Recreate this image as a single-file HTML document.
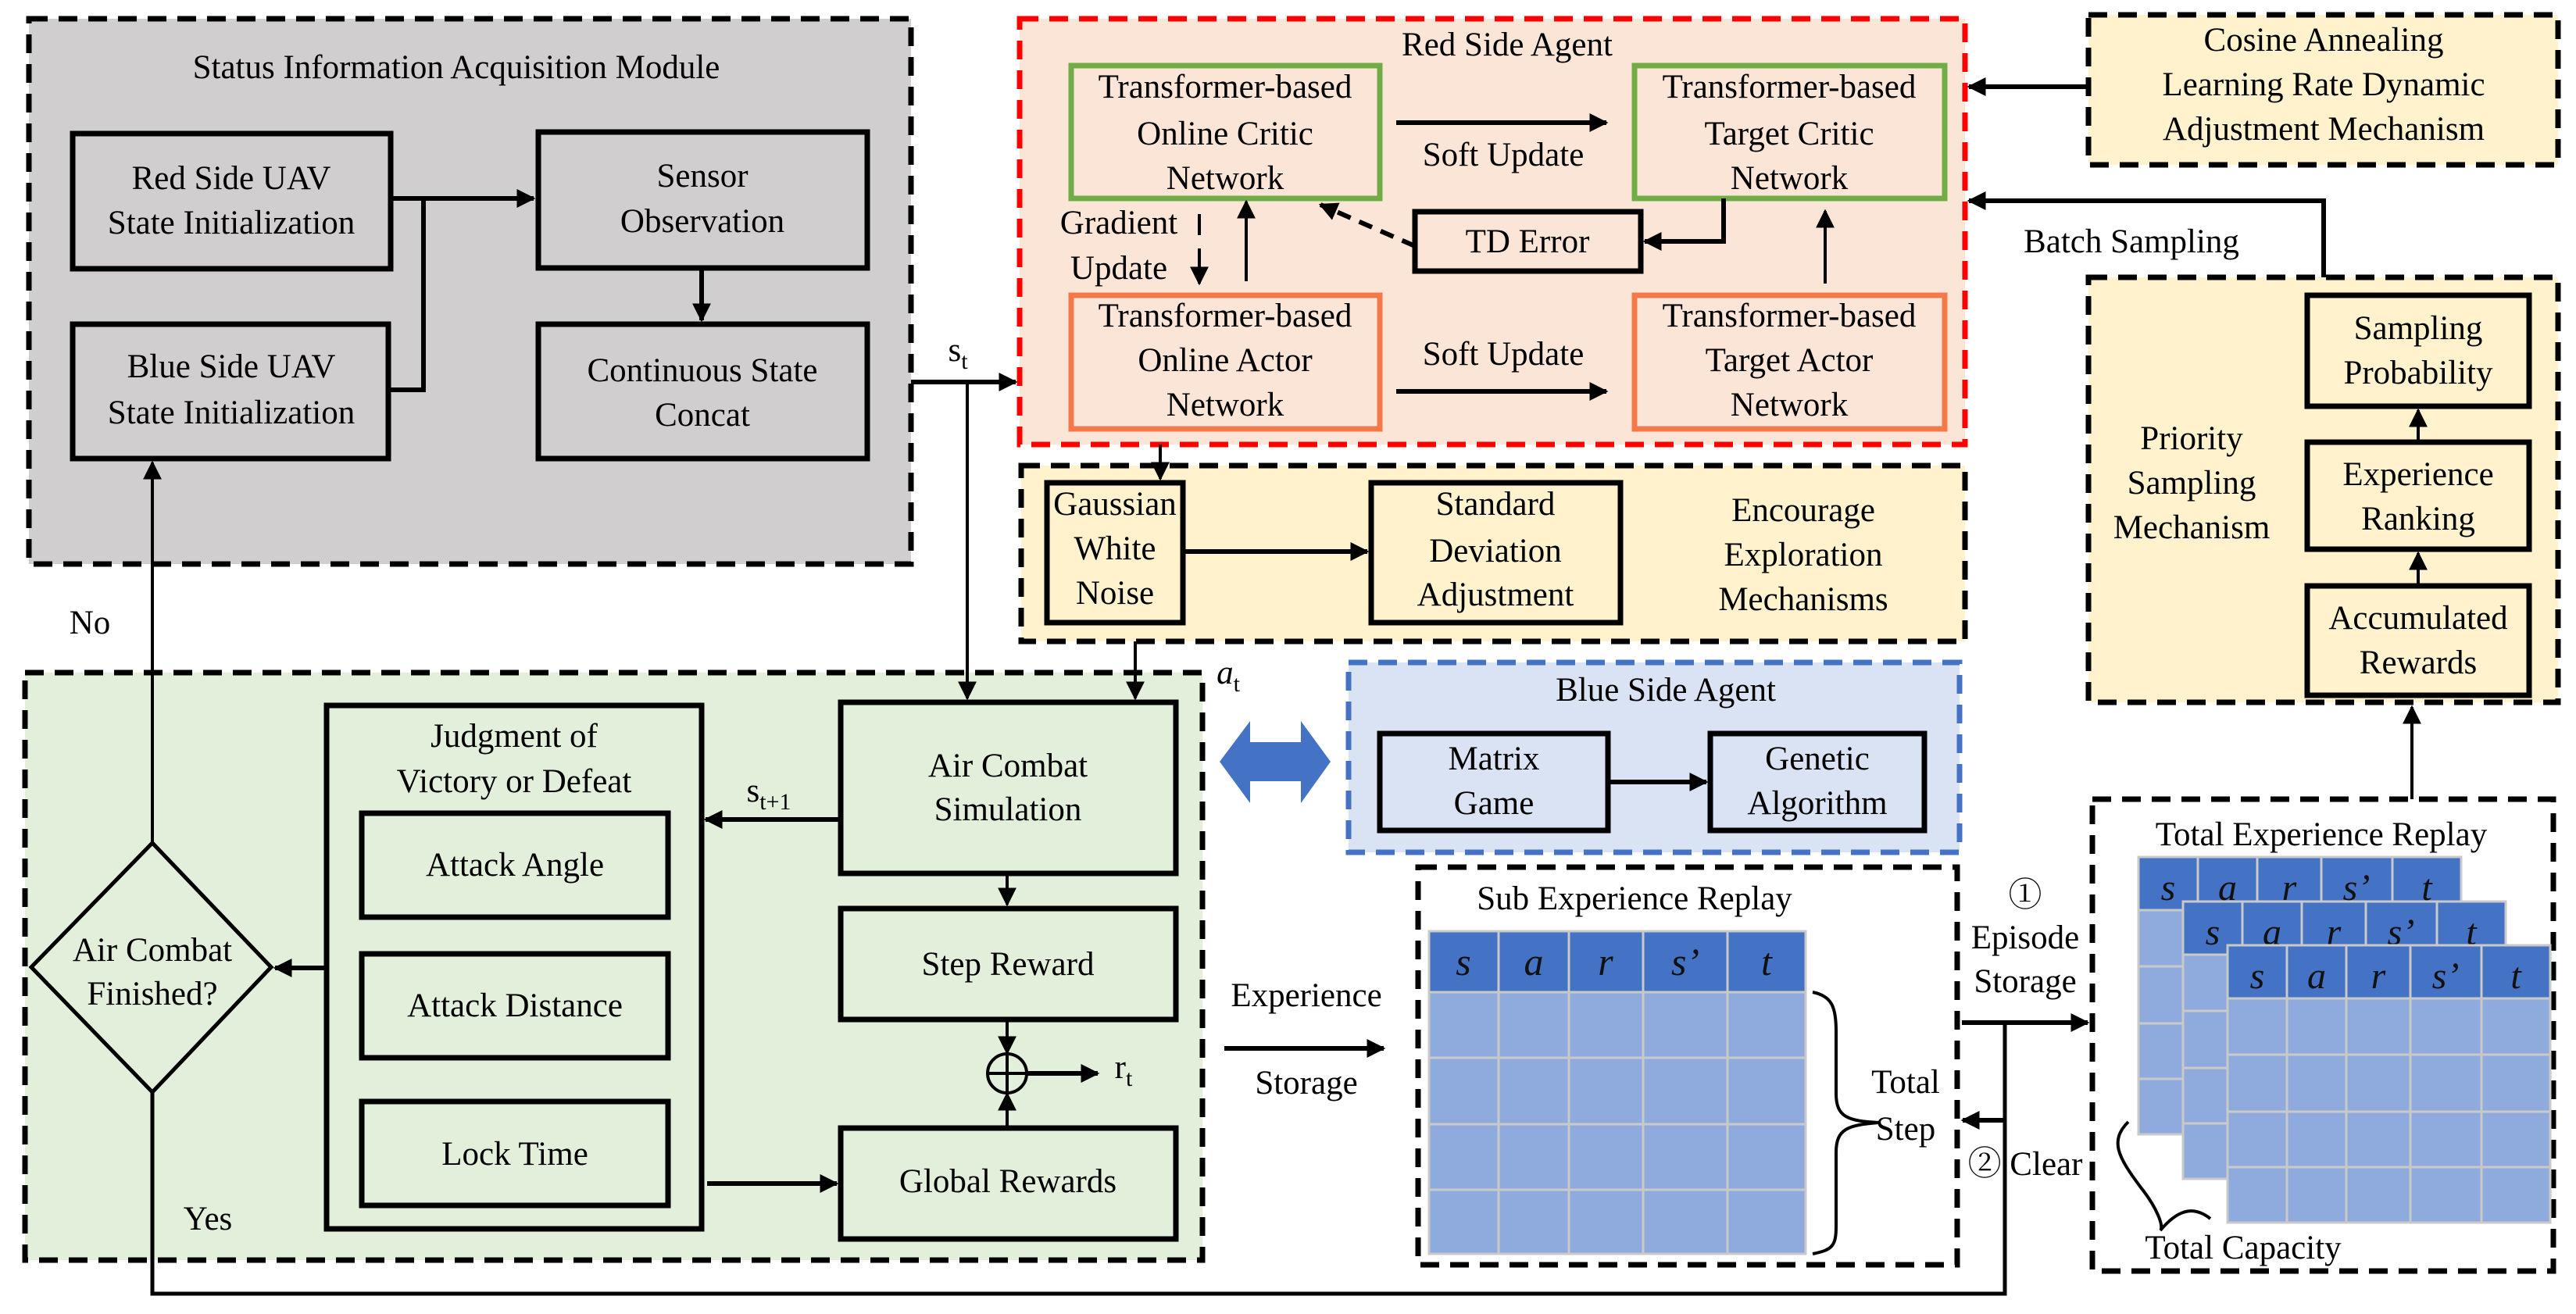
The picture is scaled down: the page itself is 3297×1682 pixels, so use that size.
<!DOCTYPE html>
<html><head><meta charset="utf-8"><style>html,body{margin:0;padding:0;background:#fff}svg{display:block}svg text{font-family:"Liberation Serif","Noto Serif CJK SC","DejaVu Serif",serif}</style></head><body>
<svg width="3297" height="1682" viewBox="0 0 3297 1682" xmlns="http://www.w3.org/2000/svg" font-size="43" text-anchor="middle">
<defs>
<marker id="a" viewBox="0 0 10 10" refX="9" refY="5" markerWidth="24" markerHeight="24" markerUnits="userSpaceOnUse" orient="auto"><path d="M0,0 L10,5 L0,10 z" fill="#000"/></marker>
<g id="tb">
<rect x="0" y="0" width="413" height="355" fill="#8faadc" stroke="#c9c9c9" stroke-width="3"/>
<rect x="0" y="0" width="413" height="68" fill="#4472c4" stroke="#c9c9c9" stroke-width="3"/>
<path d="M76,0V355M152,0V355M234,0V355M325,0V355M0,140H413M0,213H413M0,284H413" stroke="#c9c9c9" stroke-width="3"/>
<g font-style="italic" font-size="48" fill="#111">
<text x="38" y="55">s</text><text x="114" y="55">a</text><text x="193" y="55">r</text><text x="279" y="55">s’</text><text x="369" y="55">t</text>
</g>
</g>
</defs>
<g stroke-width="7" stroke-dasharray="24 14" fill="none">
<rect x="37" y="24" width="1129" height="698" fill="#d0cecf" stroke="#000"/>
<rect x="1305" y="24" width="1210" height="545" fill="#fbe5d6" stroke="#f00"/>
<rect x="1307" y="596" width="1208" height="225" fill="#fff2cc" stroke="#000"/>
<rect x="2673" y="19" width="601" height="192" fill="#fff2cc" stroke="#000"/>
<rect x="2673" y="355" width="601" height="544" fill="#fff2cc" stroke="#000"/>
<rect x="32" y="861" width="1507" height="752" fill="#e2efda" stroke="#000"/>
<rect x="1726" y="848" width="782" height="243" fill="#dae3f3" stroke="#4472c4"/>
<rect x="1815" y="1110" width="690" height="509" fill="#fff" stroke="#000"/>
<rect x="2678" y="1023" width="590" height="604" fill="#fff" stroke="#000"/>
</g>
<g fill="none" stroke="#000" stroke-width="7">
<rect x="93" y="171" width="407" height="173"/>
<rect x="689" y="169" width="421" height="174"/>
<rect x="93" y="415" width="404" height="172"/>
<rect x="689" y="415" width="421" height="172"/>
<rect x="1811" y="271" width="289" height="76"/>
<rect x="1340" y="618" width="174" height="179"/>
<rect x="1755" y="618" width="319" height="179"/>
<rect x="2953" y="378" width="284" height="142"/>
<rect x="2953" y="566" width="284" height="137"/>
<rect x="2953" y="750" width="284" height="140"/>
<rect x="418" y="903" width="480" height="670"/>
<rect x="463" y="1041" width="392" height="133"/>
<rect x="463" y="1221" width="392" height="133"/>
<rect x="463" y="1410" width="392" height="133"/>
<rect x="1076" y="899" width="429" height="219"/>
<rect x="1076" y="1163" width="429" height="142"/>
<rect x="1076" y="1444" width="429" height="142"/>
<rect x="1766" y="939" width="292" height="124"/>
<rect x="2189" y="939" width="274" height="124"/>
<path d="M195,1079 L347,1238 L195,1398 L40,1238 Z" stroke-width="5"/>
</g>
<g fill="none" stroke-width="7">
<rect x="1371" y="84" width="395" height="170" stroke="#70ad47"/>
<rect x="2092" y="84" width="397" height="170" stroke="#70ad47"/>
<rect x="1371" y="378" width="395" height="171" stroke="#f4794a"/>
<rect x="2092" y="378" width="397" height="171" stroke="#f4794a"/>
</g>
<use href="#tb" x="2737" y="1097"/>
<use href="#tb" x="2794" y="1154"/>
<use href="#tb" x="2851" y="1210"/>
<g stroke="#c9c9c9" stroke-width="3">
<rect x="1829" y="1192" width="482" height="413" fill="#8faadc"/><rect x="1829" y="1192" width="482" height="78" fill="#4472c4"/>
<path d="M1918,1192V1605M2008,1192V1605M2103,1192V1605M2211,1192V1605M1829,1354H2311M1829,1439H2311M1829,1523H2311"/>
</g>
<g font-style="italic" font-size="50" fill="#111">
<text x="1873" y="1248">s</text><text x="1963" y="1248">a</text><text x="2055" y="1248">r</text><text x="2157" y="1248">s’</text><text x="2261" y="1248">t</text>
</g>
<g stroke="#000" stroke-width="6" fill="none">
<path d="M500,254H542V499H497"/>
<path d="M542,254H683" marker-end="url(#a)"/>
<path d="M898,343V410" marker-end="url(#a)"/>
<path d="M1166,489H1300" marker-end="url(#a)"/>
<path d="M1238,489V894" stroke-width="4" marker-end="url(#a)"/>
<path d="M1485,569V613" stroke-width="4" marker-end="url(#a)"/>
<path d="M1453,821V894" stroke-width="4" marker-end="url(#a)"/>
<path d="M1787,157H2056" marker-end="url(#a)"/>
<path d="M1787,501H2056" marker-end="url(#a)"/>
<path d="M2206,254V309H2105" marker-end="url(#a)"/>
<path d="M1811,315L1690,262" stroke-dasharray="18 12" marker-end="url(#a)"/>
<path d="M2336,363V270" stroke-width="4" marker-end="url(#a)"/>
<path d="M1535,274V301" stroke-width="4"/>
<path d="M1535,318V363" stroke-width="4" marker-end="url(#a)"/>
<path d="M1595,360V258" stroke-width="4" marker-end="url(#a)"/>
<path d="M2673,111H2520" marker-end="url(#a)"/>
<path d="M2974,355V257H2520" marker-end="url(#a)"/>
<path d="M1514,706H1750" marker-end="url(#a)"/>
<path d="M3095,566V525" stroke-width="4" marker-end="url(#a)"/>
<path d="M3095,750V708" stroke-width="4" marker-end="url(#a)"/>
<path d="M3087,1023V905" stroke-width="4" marker-end="url(#a)"/>
<path d="M1076,1049H903" marker-end="url(#a)"/>
<path d="M418,1239H352" marker-end="url(#a)"/>
<path d="M905,1515H1071" marker-end="url(#a)"/>
<path d="M1289,1118V1158" stroke-width="4" marker-end="url(#a)"/>
<path d="M1289,1305V1348" stroke-width="4" marker-end="url(#a)"/>
<path d="M1289,1444V1400" stroke-width="4" marker-end="url(#a)"/>
<path d="M1315,1374H1405" marker-end="url(#a)"/>
<ellipse cx="1289" cy="1374" rx="25" ry="25" stroke-width="4"/>
<path d="M1264,1374H1314M1289,1349V1399" stroke-width="4"/>
<path d="M195,1079V592" stroke-width="4" marker-end="url(#a)"/>
<path d="M195,1398V1656H2566V1309" stroke-width="5"/>
<path d="M2511,1309H2672" marker-end="url(#a)"/>
<path d="M2566,1434H2512" marker-end="url(#a)"/>
<path d="M2058,1001H2184" marker-end="url(#a)"/>
<path d="M1567,1342H1771" marker-end="url(#a)"/>
<path d="M2320,1270C2345,1275 2350,1290 2350,1320V1400C2350,1430 2365,1435 2405,1437C2365,1440 2350,1445 2350,1475V1570C2350,1595 2345,1600 2320,1605" stroke-width="4"/>
<path d="M2724,1436C2700,1460 2710,1480 2740,1520C2760,1545 2770,1570 2765,1575C2790,1545 2810,1545 2829,1560" stroke-width="4"/>
</g>
<path d="M1561,975 L1600,923 V950 H1665 V923 L1703,975 L1665,1028 V1000 H1600 V1028 Z" fill="#4472c4"/>
<g fill="#000">
<text x="584" y="100">Status Information Acquisition Module</text>
<text x="296" y="242">Red Side UAV</text><text x="296" y="299">State Initialization</text>
<text x="296" y="483">Blue Side UAV</text><text x="296" y="542">State Initialization</text>
<text x="899" y="239">Sensor</text><text x="899" y="297">Observation</text>
<text x="899" y="488">Continuous State</text><text x="899" y="545">Concat</text>
<text x="1929" y="71">Red Side Agent</text>
<text x="1568" y="125">Transformer-based</text><text x="1568" y="185">Online Critic</text><text x="1568" y="242">Network</text>
<text x="2290" y="125">Transformer-based</text><text x="2290" y="185">Target Critic</text><text x="2290" y="242">Network</text>
<text x="1568" y="418">Transformer-based</text><text x="1568" y="475">Online Actor</text><text x="1568" y="532">Network</text>
<text x="2290" y="418">Transformer-based</text><text x="2290" y="475">Target Actor</text><text x="2290" y="532">Network</text>
<text x="1924" y="212">Soft Update</text><text x="1924" y="467">Soft Update</text>
<text x="1955" y="323">TD Error</text>
<text x="1432" y="299">Gradient</text><text x="1432" y="357">Update</text>
<text x="2974" y="65">Cosine Annealing</text><text x="2974" y="122">Learning Rate Dynamic</text><text x="2974" y="179">Adjustment Mechanism</text>
<text x="2728" y="323">Batch Sampling</text>
<text x="2805" y="575">Priority</text><text x="2805" y="632">Sampling</text><text x="2805" y="689">Mechanism</text>
<text x="3095" y="434">Sampling</text><text x="3095" y="491">Probability</text>
<text x="3095" y="621">Experience</text><text x="3095" y="678">Ranking</text>
<text x="3095" y="805">Accumulated</text><text x="3095" y="862">Rewards</text>
<text x="1427" y="659">Gaussian</text><text x="1427" y="716">White</text><text x="1427" y="773">Noise</text>
<text x="1914" y="659">Standard</text><text x="1914" y="719">Deviation</text><text x="1914" y="775">Adjustment</text>
<text x="2308" y="667">Encourage</text><text x="2308" y="724">Exploration</text><text x="2308" y="781">Mechanisms</text>
<text x="1226" y="462">s<tspan font-size="30" dy="10">t</tspan></text>
<text x="115" y="811">No</text>
<text x="658" y="956">Judgment of</text><text x="658" y="1014">Victory or Defeat</text>
<text x="659" y="1121">Attack Angle</text><text x="659" y="1301">Attack Distance</text><text x="659" y="1491">Lock Time</text>
<text x="1290" y="994">Air Combat</text><text x="1290" y="1050">Simulation</text>
<text x="1290" y="1248">Step Reward</text><text x="1290" y="1526">Global Rewards</text>
<text x="195" y="1230">Air Combat</text><text x="195" y="1286">Finished?</text>
<text x="984" y="1026">s<tspan font-size="30" dy="10">t+1</tspan></text>
<text x="1572" y="875" font-style="italic">a<tspan font-size="30" dy="10" font-style="normal">t</tspan></text>
<text x="1438" y="1380">r<tspan font-size="30" dy="10">t</tspan></text>
<text x="266" y="1574">Yes</text>
<text x="2132" y="897">Blue Side Agent</text>
<text x="1912" y="985">Matrix</text><text x="1912" y="1042">Game</text>
<text x="2326" y="985">Genetic</text><text x="2326" y="1042">Algorithm</text>
<text x="2092" y="1164">Sub Experience Replay</text>
<text x="1672" y="1288">Experience</text><text x="1672" y="1400">Storage</text>
<text x="2439" y="1399">Total</text><text x="2439" y="1459">Step</text>
<text x="2592" y="1160">①</text><text x="2592" y="1214">Episode</text><text x="2592" y="1270">Storage</text>
<text x="2592" y="1504">② Clear</text>
<text x="2971" y="1082">Total Experience Replay</text>
<text x="2871" y="1611">Total Capacity</text>
</g>
</svg>
</body></html>
